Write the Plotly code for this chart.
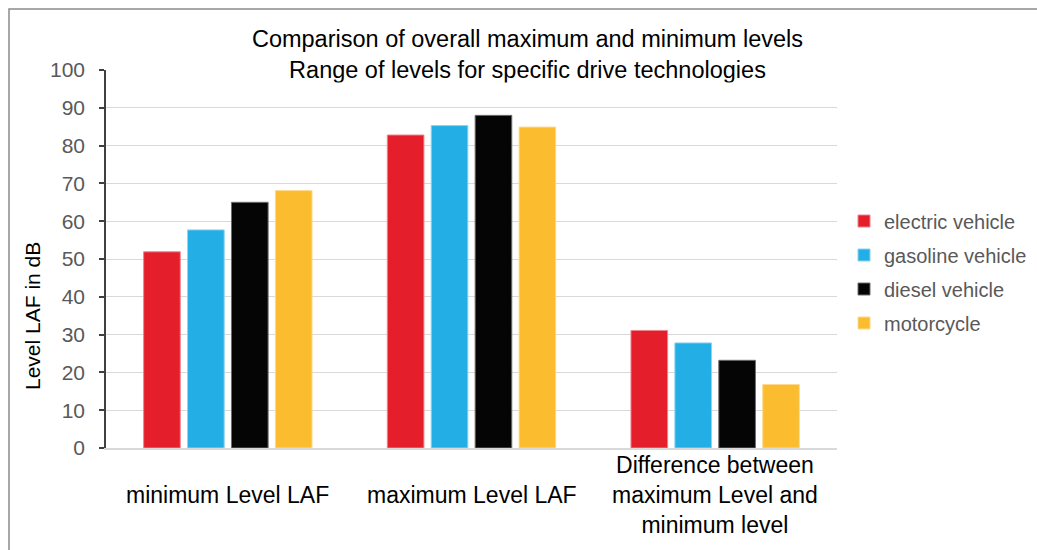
import plotly.graph_objects as go

# Category keys and the (wrapped) labels printed under each group
categories = ["minimum Level LAF", "maximum Level LAF",
              "Difference between maximum Level and minimum level"]
category_labels = ["minimum Level LAF", "maximum Level LAF",
                   "Difference between<br>maximum Level and<br>minimum level"]

series_names = ["electric vehicle", "gasoline vehicle", "diesel vehicle", "motorcycle"]

# Level LAF in dB per drive technology
electric = [51.9, 82.8, 31.1]
gasoline = [57.7, 85.3, 27.8]
diesel = [65.0, 88.0, 23.2]
motorcycle = [68.1, 84.9, 16.8]

y_ticks = list(range(0, 101, 10))

title_lines = ["Comparison of overall maximum and minimum levels",
               "Range of levels for specific drive technologies"]
y_title = "Level LAF in dB"

series_values = [electric, gasoline, diesel, motorcycle]
fill_colors = ["#E41E2B", "#23AEE5", "#050505", "#FBBC2F"]
edge_colors = ["#EE848A", "#8CD3F1", "#6E6E6E", "#FDDA8E"]

FONT = "Liberation Sans, Arial, Helvetica, sans-serif"

W, H = 1037, 550
L, R, T, B = 106, 200, 70, 102
plot_w = W - L - R
plot_h = H - T - B


def px_x(x):
    return (x - L) / plot_w


def px_y(y):
    return (H - B - y) / plot_h


fig = go.Figure()
for name, vals, fc, ec in zip(series_names, series_values, fill_colors, edge_colors):
    fig.add_trace(go.Bar(
        x=categories, y=vals, name=name, legendgroup=name,
        marker=dict(color=fc, line=dict(color=ec, width=1)),
    ))

annotations = [
    dict(text="<br>".join(title_lines), xref="paper", yref="paper",
         x=px_x(527), y=px_y(55), xanchor="center", yanchor="middle",
         showarrow=False, bgcolor="white", width=655, borderpad=2,
         font=dict(family=FONT, size=23.5, color="#000000")),
    dict(text=y_title, xref="paper", yref="paper", textangle=-90,
         x=px_x(32), y=px_y(316), xanchor="center", yanchor="middle",
         showarrow=False, font=dict(family=FONT, size=21, color="#000000")),
]
for cat, lab in zip(categories, category_labels):
    annotations.append(dict(
        text=lab, xref="x", yref="paper", x=cat, y=px_y(495),
        xanchor="center", yanchor="middle", showarrow=False,
        font=dict(family=FONT, size=23, color="#000000"),
    ))

fig.update_layout(
    width=W, height=H,
    margin=dict(l=L, r=R, t=T, b=B, autoexpand=False),
    paper_bgcolor="white", plot_bgcolor="white",
    barmode="group", bargap=0.279, bargroupgap=0.166,
    font=dict(family=FONT),
    showlegend=True,
    legend=dict(
        x=px_x(844), y=px_y(272), xanchor="left", yanchor="middle",
        font=dict(family=FONT, size=20, color="#595959"),
        tracegroupgap=5, bgcolor="rgba(0,0,0,0)",
    ),
    xaxis=dict(
        showticklabels=False, ticks="", showgrid=False,
        showline=True, linecolor="#D9D9D9", linewidth=1.5, zeroline=False,
    ),
    yaxis=dict(
        range=[0, 100], tickvals=y_ticks, ticks="outside", ticklen=5,
        tickcolor="#404040", tickwidth=1.5, showline=True, linecolor="#404040",
        linewidth=1.5, showgrid=True, gridcolor="#D9D9D9", gridwidth=1.3,
        zeroline=False, ticklabelstandoff=10,
        tickfont=dict(family=FONT, size=21, color="#595959"),
    ),
    annotations=annotations,
    shapes=[dict(
        type="rect", xref="paper", yref="paper",
        x0=px_x(9), x1=px_x(W + 20), y0=px_y(H + 20), y1=px_y(9),
        line=dict(color="#8C8C8C", width=1.5), fillcolor="rgba(0,0,0,0)",
        layer="above",
    )],
)

fig.write_html("out.html")
